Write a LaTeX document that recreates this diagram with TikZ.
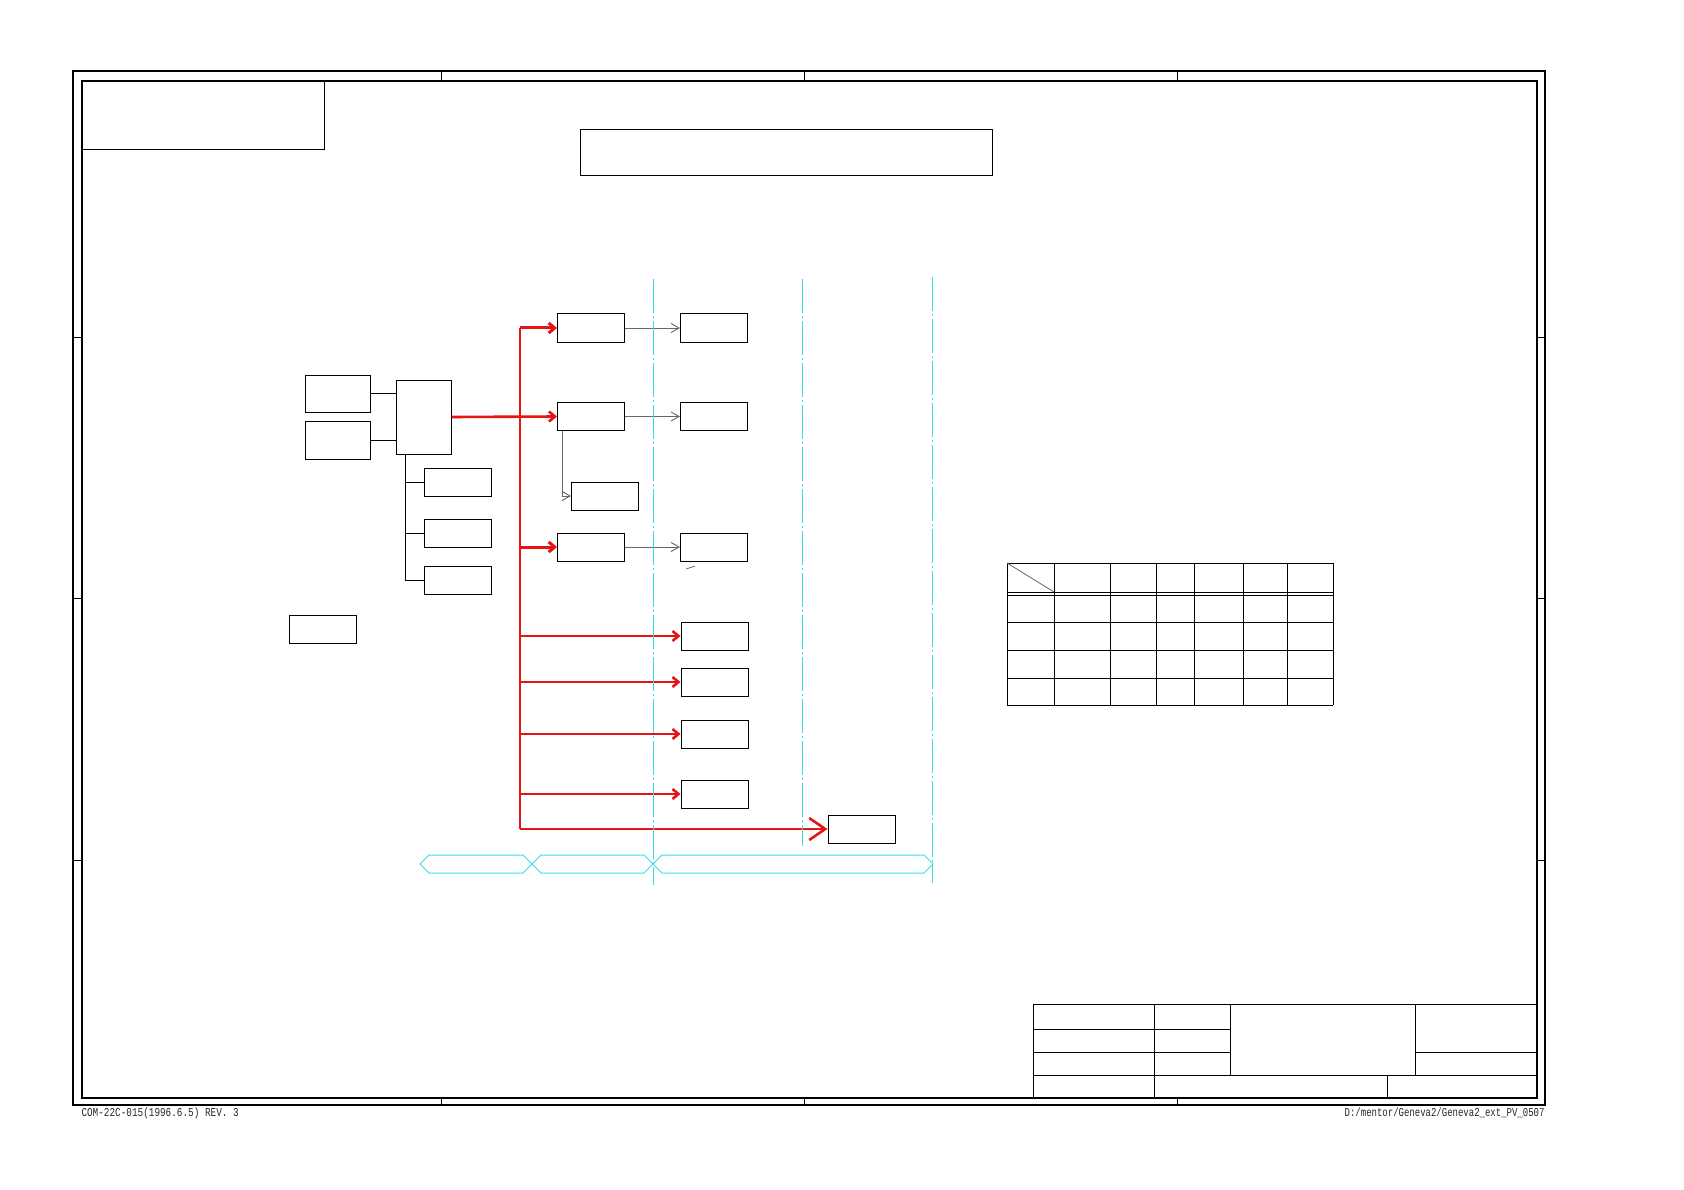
\documentclass[tikz,border=0pt]{standalone}
\usepackage{fontspec}
\setmonofont{Liberation Mono}
\usepackage{xcolor}
\usetikzlibrary{arrows.meta, positioning}
\definecolor{busred}{RGB}{230,20,20}
\definecolor{zonecyan}{RGB}{60,220,230}

\begin{document}
\begin{tikzpicture}[x=1pt, y=-1pt, line width=1pt]
    \tikzstyle{blk} = [rectangle, draw, inner sep=0pt, minimum width=67pt, minimum height=28pt]
    \tikzstyle{bus} = [draw=busred, line width=2.6pt]
    \tikzstyle{feed} = [bus, -{Straight Barb[length=6pt, width=10pt]}]
    \tikzstyle{link} = [draw=black!60, line width=0.9pt, -{Straight Barb[length=8pt, width=9pt, line width=0.9pt]}]
    \tikzstyle{zone} = [draw=zonecyan, line width=1pt, dash pattern=on 34pt off 3pt on 2pt off 3pt]
    \tikzstyle{lane} = [draw=zonecyan, line width=1pt]
    \tikzstyle{frame} = [draw, line width=1.2pt]
    \tikzstyle{stamp} = [font=\ttfamily\fontsize{12}{12}\selectfont, text=black!85, inner sep=0pt]

    \useasboundingbox (0,0) rectangle (1684,1190);

    % sheet frame
    \draw[frame] (73,71) rectangle (1545,1105);
    \draw[frame] (82,81) rectangle (1537,1098);
    \foreach \x in {441,804,1177} {
        \draw (\x,71) -- (\x,81);
        \draw (\x,1098) -- (\x,1105);
    }
    \foreach \y in {337,598,860} {
        \draw (73,\y) -- (82,\y);
        \draw (1537,\y) -- (1545,\y);
    }
    \draw (82,150) -- (324,150) -- (324,81);
    \node [draw, inner sep=0pt, minimum width=412pt, minimum height=46pt] (title) at (786,153) {};

    \node [blk, minimum width=65pt, minimum height=37pt] (srcA) at (337.5,393.5) {};
    \node [blk, minimum width=65pt, minimum height=38pt] (srcB) at (337.5,440) {};
    \node [blk, minimum width=55pt, minimum height=74pt] (hub) at (423.5,417) {};
    \node [blk] (subA) at (458,482) {};
    \node [blk] (subB) at (458,533) {};
    \node [blk] (subC) at (458,580) {};
    \node [blk] (spare) at (323,629) {};
    \node [blk] (modA) at (591,328) {};
    \node [blk] (modB) at (591,416.5) {};
    \node [blk] (modC) at (591,547) {};
    \node [blk] (modD) at (605,496) {};
    \node [blk, right=55pt of modA] (outA) {};
    \node [blk, right=55pt of modB] (outB) {};
    \node [blk, right=55pt of modC] (outC) {};
    \node [blk] (outD) at (714.5,636) {};
    \node [blk] (outE) at (714.5,682) {};
    \node [blk] (outF) at (714.5,734) {};
    \node [blk] (outG) at (714.5,794) {};
    \node [blk] (ext) at (861.5,829) {};

    \draw (srcA.east) -- (srcA.east -| hub.west);
    \draw (srcB.east) -- (srcB.east -| hub.west);
    \coordinate (trunk) at ([xshift=10pt]hub.south west);
    \draw (trunk) |- (subC.west);
    \draw (subA.west -| trunk) -- (subA.west);
    \draw (subB.west -| trunk) -- (subB.west);

    \coordinate (busTop) at (520,328);
    \coordinate (busBot) at (520,829);
    \draw [bus] (busTop) -- (busBot);
    \draw [feed, line width=3pt] (busTop) -- (modA.west);
    \draw [feed] (hub.east) -- (modB.west);
    \draw [feed, line width=3pt] (modC.west -| busTop) -- (modC.west);
    \foreach \n in {outD,outE,outF,outG}
        \draw [feed] (\n.west -| busTop) -- (\n.west);
    \draw [bus, -{Straight Barb[length=16pt, width=22pt]}] (busBot) -- (ext.west);

    \draw [link] (modA.east) -- (outA.west);
    \draw [link] (modB.east) -- (outB.west);
    \draw [link] (modC.east) -- (outC.west);
    \draw [link] ([xshift=5pt]modB.south west) |- (modD.west);
    \draw [black!60, line width=0.8pt] (686,569) -- (695,566);

    \draw [zone] (653,279) -- (653,885);
    \draw [zone] (802,279) -- (802,846);
    \draw [zone] (932,277) -- (932,883);
    \draw [lane] (420,864) -- (429,855) -- (523,855) -- (532,864) -- (523,873) -- (429,873) -- cycle;
    \draw [lane] (532,864) -- (541,855) -- (644,855) -- (653,864) -- (644,873) -- (541,873) -- cycle;
    \draw [lane] (653,864) -- (662,855) -- (924,855) -- (933,864) -- (924,873) -- (662,873) -- cycle;

    % table
    \foreach \x in {1007,1054,1110,1156,1194,1243,1287,1333}
        \draw (\x,563) -- (\x,705);
    \foreach \y in {563,592,595,622,650,678,705}
        \draw (1007,\y) -- (1333,\y);
    \draw [black!60, line width=0.8pt] (1007,563) -- (1054,592);

    % title block
    \draw (1033,1004) rectangle (1537,1098);
    \draw (1154,1004) -- (1154,1098);
    \draw (1230,1004) -- (1230,1075);
    \draw (1415.5,1004) -- (1415.5,1075);
    \draw (1033,1075) -- (1537,1075);
    \draw (1033,1029) -- (1230,1029);
    \draw (1033,1052) -- (1230,1052);
    \draw (1415.5,1052) -- (1537,1052);
    \draw (1387.5,1075) -- (1387.5,1098);

    \node [stamp, anchor=west] (formNo) at (81,1113) {\scalebox{0.78}[1]{COM-22C-015(1996.6.5) REV. 3}};
    \node [stamp, anchor=east] (filePath) at (1545,1113) {\scalebox{0.75}[1]{D:/mentor/Geneva2/Geneva2\_ext\_PV\_0507}};
\end{tikzpicture}
\end{document}
